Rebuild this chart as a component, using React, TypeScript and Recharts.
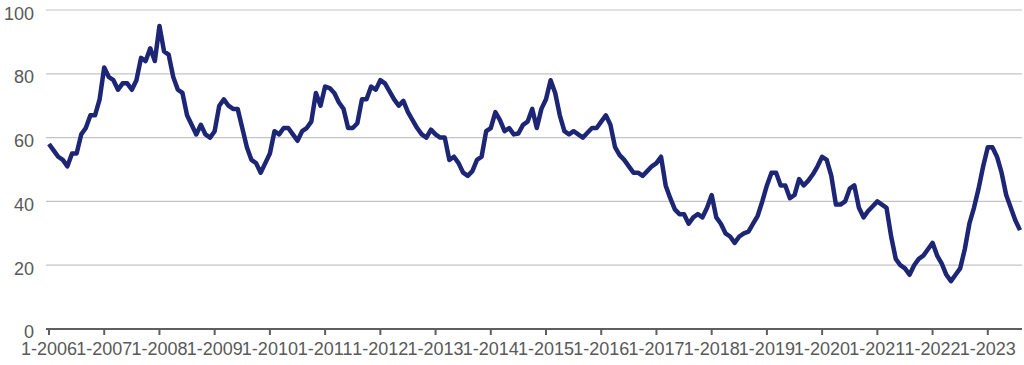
import React from 'react';
import { LineChart, Line, XAxis, YAxis, CartesianGrid } from 'recharts';

// First and last month shown
const startYear = 2006;
const lastMonthOf2023 = 8;

// Monthly values, one row per year (Jan..Dec)
const index2006 = [58, 56, 54, 53, 51, 55, 55, 61, 63, 67, 67, 72];
const index2007 = [82, 79, 78, 75, 77, 77, 75, 78, 85, 84, 88, 84];
const index2008 = [95, 87, 86, 79, 75, 74, 67, 64, 61, 64, 61, 60];
const index2009 = [62, 70, 72, 70, 69, 69, 63, 57, 53, 52, 49, 52];
const index2010 = [55, 62, 61, 63, 63, 61, 59, 62, 63, 65, 74, 70];
const index2011 = [76, 75.5, 74, 71, 69, 63, 63, 64.5, 72, 72, 76, 75];
const index2012 = [78, 77, 74.5, 72, 70, 71.5, 68, 65.5, 63, 61, 60, 62.5];
const index2013 = [61, 60, 60, 53, 54, 52, 49, 48, 49.5, 53, 54, 62];
const index2014 = [63, 68, 65.5, 62, 63, 61, 61.3, 64, 65, 69, 63, 69];
const index2015 = [72, 78, 74, 67, 62, 61, 62, 61, 60, 61.5, 63, 63];
const index2016 = [65, 67, 64, 57, 54.5, 53, 51, 49, 49, 48, 49.5, 51];
const index2017 = [52, 54, 45, 41, 37.5, 36, 36, 33, 35, 36, 35, 38];
const index2018 = [42, 35, 33, 30, 29, 27, 29, 30, 30.5, 33, 35.5, 40];
const index2019 = [45, 49, 49, 45, 45, 41, 42, 47, 45, 46.5, 48.5, 51];
const index2020 = [54, 53, 48, 39, 39, 40, 44, 45, 38, 35, 37, 38.5];
const index2021 = [40, 39, 38, 29, 22, 20, 19, 17, 20, 22, 23, 25];
const index2022 = [27, 23, 20.5, 17, 15, 17, 19, 25, 33, 38, 44, 51];
const index2023 = [57, 57, 54, 49, 42, 38, 34, 31];

const yearRows = [
  index2006, index2007, index2008, index2009, index2010, index2011,
  index2012, index2013, index2014, index2015, index2016, index2017,
  index2018, index2019, index2020, index2021, index2022, index2023,
];

const yTicks = [0, 20, 40, 60, 80, 100];

// one row per month, labelled like "1-2006"
const chartData = yearRows.flatMap((row, y) =>
  row.slice(0, y === yearRows.length - 1 ? lastMonthOf2023 : 12).map((value, m) => ({
    name: `${m + 1}-${startYear + y}`,
    value,
  }))
);

const labelStyle = { fontSize: 18, fill: '#595959', fontFamily: '"Liberation Sans", Arial, sans-serif' };

export default function App() {
  return (
    <div style={{ position: 'absolute', left: 0, top: 0, width: 1024, height: 365, background: '#fff' }}>
      <LineChart width={1024} height={365} data={chartData} margin={{ top: 10, right: 2, bottom: 2, left: 6 }}>
        <CartesianGrid vertical={false} stroke="#c4c4c4" strokeWidth={1.2} />
        <XAxis
          dataKey="name"
          interval={11}
          padding={{ left: 3, right: 2 }}
          height={34}
          tickSize={6}
          tickMargin={7}
          axisLine={{ stroke: '#5f5f5f', strokeWidth: 2 }}
          tickLine={{ stroke: '#5f5f5f', strokeWidth: 2 }}
          tick={labelStyle}
        />
        <YAxis
          domain={[0, 100]}
          ticks={yTicks}
          width={40}
          axisLine={false}
          tickLine={false}
          tickSize={0}
          tickMargin={12}
          tick={{ ...labelStyle, dy: 3 }}
        />
        <Line
          type="linear"
          dataKey="value"
          stroke="#1c2675"
          strokeWidth={4.5}
          dot={false}
          strokeLinejoin="round"
          isAnimationActive={false}
        />
      </LineChart>
    </div>
  );
}
